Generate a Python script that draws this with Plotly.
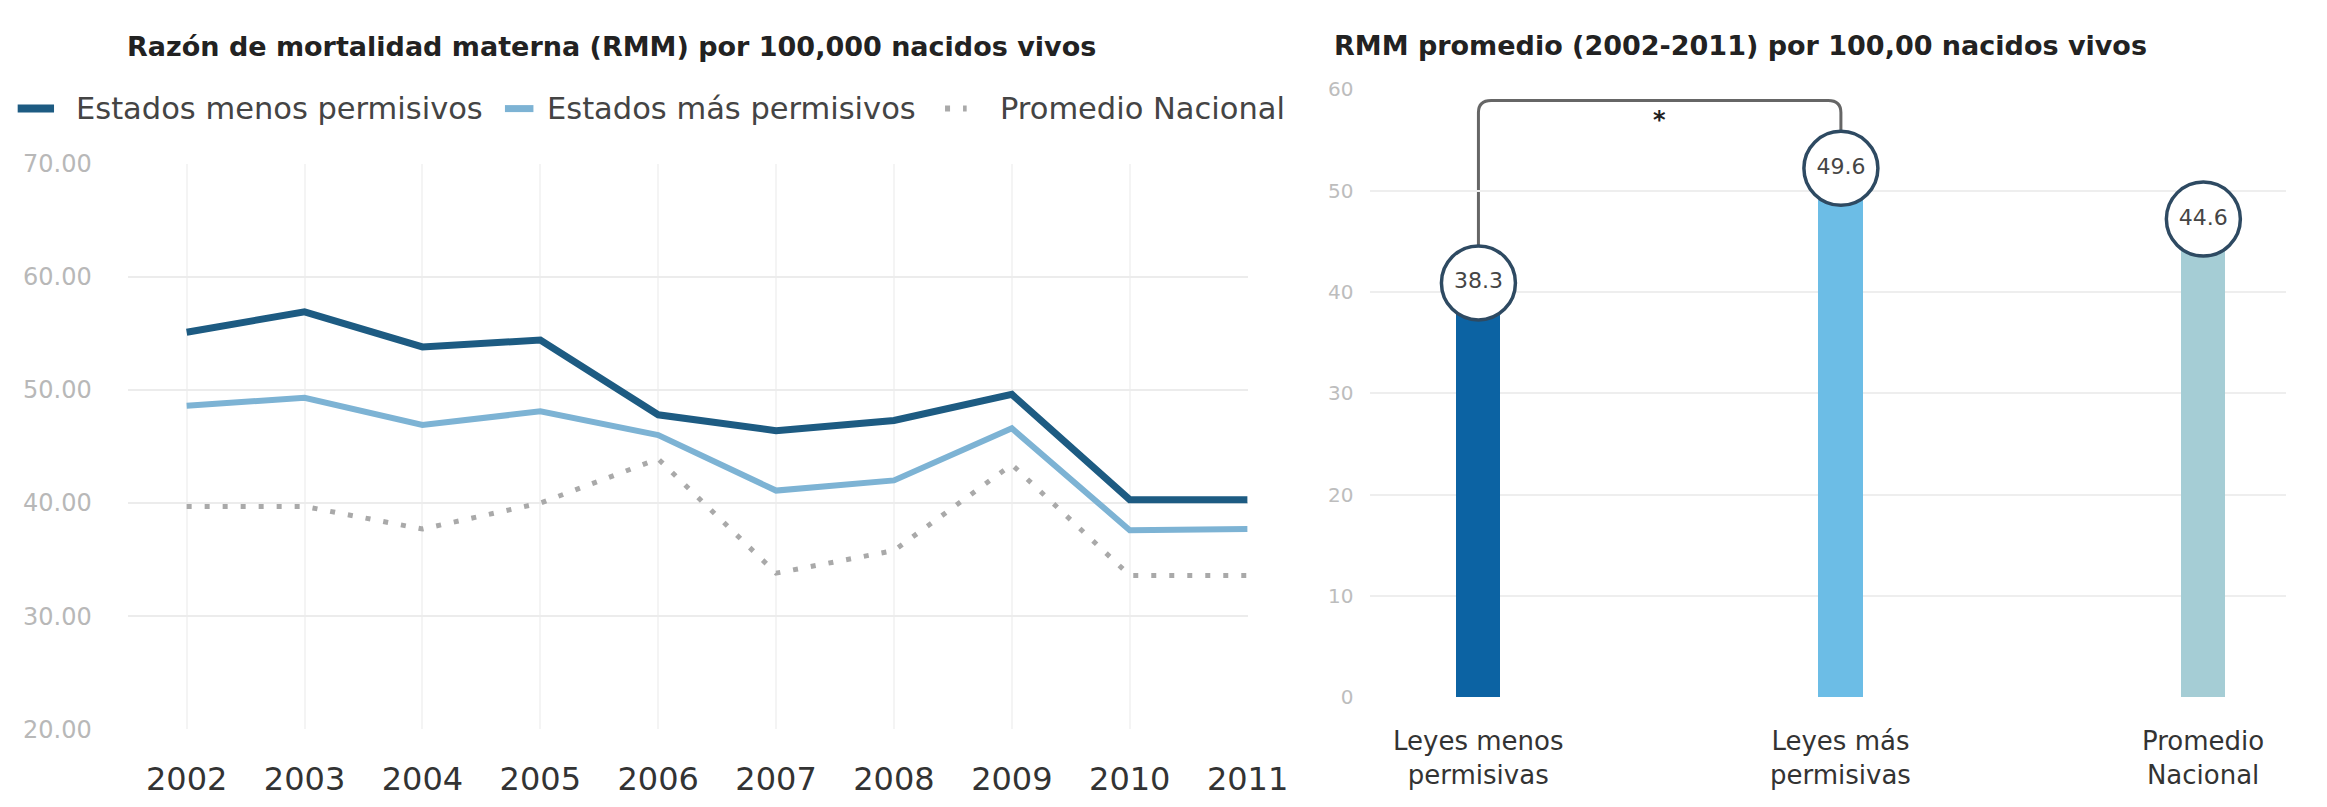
import plotly.graph_objects as go

# Maternal mortality ratio per 100,000 live births, 2002-2011
years = [2002, 2003, 2004, 2005, 2006, 2007, 2008, 2009, 2010, 2011]
menos_permisivos = [55.1, 56.9, 53.8, 54.4, 47.8, 46.4, 47.3, 49.6, 40.3, 40.3]
mas_permisivos = [48.6, 49.3, 46.9, 48.1, 46.0, 41.1, 42.0, 46.6, 37.6, 37.7]
promedio_nacional = [39.7, 39.7, 37.7, 40.0, 43.9, 33.8, 35.8, 43.4, 33.6, 33.6]
line_names = ["Estados menos permisivos", "Estados más permisivos", "Promedio Nacional"]
left_yticks = [20, 30, 40, 50, 60, 70]

# Average 2002-2011
bar_categories = ["Leyes menos<br>permisivas", "Leyes más<br>permisivas", "Promedio<br>Nacional"]
bar_values = [38.3, 49.6, 44.6]
right_yticks = [0, 10, 20, 30, 40, 50, 60]

W, H = 2327, 807
FONT = "DejaVu Sans"
DARK = "#1d5b82"
LIGHT = "#7db3d4"
DOTS = "#a9a9a9"
BAR_COLORS = ["#0c63a3", "#6cbde6", "#a5cdd5"]
line_styles = [dict(color=DARK, width=7), dict(color=LIGHT, width=6),
               dict(color=DOTS, width=5, dash="5px,13px")]

fig = go.Figure()

# ---- left panel: lines ----
for name, ys, style in zip(line_names, [menos_permisivos, mas_permisivos, promedio_nacional], line_styles):
    fig.add_trace(go.Scatter(x=years, y=ys, name=name, mode="lines", line=style,
                             xaxis="x", yaxis="y", showlegend=False))

# ---- right panel: bars with value bubbles ----
xcat = list(range(len(bar_values)))
BUBBLE_OFFSET = 2.6      # bubble centre above bar top (data units)
BUBBLE_TOP = 5.9         # bubble top above bar top (data units)
fig.add_trace(go.Bar(x=xcat, y=bar_values, width=0.122, marker=dict(color=BAR_COLORS, line=dict(width=0)),
                     xaxis="x2", yaxis="y2", showlegend=False))
fig.add_trace(go.Scatter(x=xcat, y=[v + BUBBLE_OFFSET for v in bar_values], mode="markers+text",
                         text=[f"{v:.1f}" for v in bar_values], textposition="middle center",
                         textfont=dict(family=FONT, size=22, color="#454545"),
                         marker=dict(size=74, color="white", line=dict(color="#2e4a62", width=3.5)),
                         xaxis="x2", yaxis="y2", showlegend=False))

# significance bracket between the first two bars
top = 58.9
rx, ry = 0.035, 1.2
x0, x1 = xcat[0], xcat[1]
y0, y1 = bar_values[0] + BUBBLE_TOP, bar_values[1] + BUBBLE_TOP
path = (f"M {x0},{y0} L {x0},{top - ry} Q {x0},{top} {x0 + rx},{top} "
        f"L {x1 - rx},{top} Q {x1},{top} {x1},{top - ry} L {x1},{y1}")
shapes = [dict(type="path", path=path, xref="x2", yref="y2", layer="below",
               line=dict(color="#666666", width=3))]

# legend row: sample strokes and labels
legend_y = 1 - 98 / H
legend_samples = [(18, 55), (514, 543), (962, 984)]
legend_text_x = [75, 555, 1016]
for (sx0, sx1), style in zip(legend_samples, line_styles):
    shapes.append(dict(type="line", xref="paper", yref="paper", x0=sx0 / W, x1=sx1 / W,
                       y0=legend_y, y1=legend_y,
                       line=dict(color=style["color"], width=style["width"] + 1,
                                 dash=style.get("dash", "solid"))))

annotations = [
    dict(text="<b>Razón de mortalidad materna (RMM) por 100,000 nacidos vivos</b>",
         x=127 / W, y=1 - 34 / H, xref="paper", yref="paper", xanchor="left", yanchor="middle",
         showarrow=False, font=dict(family=FONT, size=27, color="#222222")),
    dict(text="<b>RMM promedio (2002-2011) por 100,00 nacidos vivos</b>",
         x=1356 / W, y=1 - 33 / H, xref="paper", yref="paper", xanchor="left", yanchor="middle",
         showarrow=False, font=dict(family=FONT, size=27, color="#222222")),
    dict(text="<b>*</b>", x=(x0 + x1) / 2, y=57.0, xref="x2", yref="y2", xanchor="center",
         yanchor="middle", showarrow=False, font=dict(family=FONT, size=24, color="#222222")),
]
for name, tx in zip(line_names, legend_text_x):
    annotations.append(dict(text=name, x=tx / W, y=legend_y, xref="paper", yref="paper",
                            xanchor="left", yanchor="middle", showarrow=False,
                            font=dict(family=FONT, size=30.5, color="#444444")))
for i, cat in enumerate(bar_categories):
    annotations.append(dict(text=cat, x=i, y=1 - 771 / H, xref="x2", yref="paper", xanchor="center",
                            yanchor="middle", showarrow=False,
                            font=dict(family=FONT, size=26, color="#333333")))

fig.update_layout(
    width=W, height=H,
    margin=dict(l=0, r=0, t=0, b=0),
    paper_bgcolor="white", plot_bgcolor="white",
    showlegend=False,
    xaxis=dict(domain=[130 / W, 1270 / W], range=[2001.5, 2011], tickvals=years,
               ticktext=[str(y) for y in years], showgrid=True, gridcolor="#f4f4f4", gridwidth=2,
               zeroline=False, showline=False, ticks="", ticklabelstandoff=28,
               tickfont=dict(family=FONT, size=32, color="#333333"), fixedrange=True),
    yaxis=dict(domain=[1 - 741 / H, 1 - 155 / H], range=[20, 70], tickvals=left_yticks,
               tickformat=".2f", showgrid=True, gridcolor="#ececec", gridwidth=2, zeroline=False,
               showline=False, ticks="", ticklabelstandoff=35,
               tickfont=dict(family=FONT, size=24, color="#b8b8b8")),
    xaxis2=dict(domain=[1395 / W, 1.0], range=[-0.298, 2.228], showticklabels=False, showgrid=False,
                zeroline=False, showline=False, ticks=""),
    yaxis2=dict(domain=[1 - 708 / H, 1 - 78 / H], range=[0, 60], tickvals=right_yticks, anchor="x2",
                showgrid=True, gridcolor="#eeeeee", gridwidth=2, zeroline=False, showline=False,
                ticks="", ticklabelstandoff=16,
                tickfont=dict(family=FONT, size=20, color="#bdbdbd")),
    shapes=shapes,
    annotations=annotations,
    bargap=0,
)

fig.write_html("out.html")
